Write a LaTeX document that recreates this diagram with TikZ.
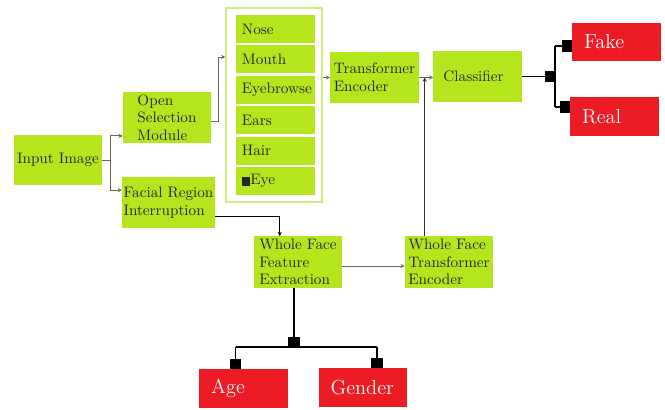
\documentclass[tikz,border=0pt]{standalone}
\usetikzlibrary{arrows.meta}
\definecolor{boxgreen}{HTML}{B5E61D}
\definecolor{boxred}{HTML}{ED1C24}
\definecolor{framegreen}{HTML}{CDEE7E}

\begin{document}
\begin{tikzpicture}[x=0.025cm, y=-0.025cm,
  greenbox/.style={fill=boxgreen, minimum width=2.2cm, minimum height=1.28cm,
    align=left, inner xsep=1pt, inner ysep=0pt, text=black!85,
    font=\rmfamily\fontsize{10.8}{12.6}\selectfont},
  partbox/.style={fill=boxgreen, minimum width=1.98cm, minimum height=0.7cm,
    text width=1.68cm, inner xsep=0.15cm, align=left, text=black!85,
    font=\rmfamily\fontsize{10.8}{12.6}\selectfont},
  redbox/.style={fill=boxred, minimum width=2.22cm, minimum height=0.97cm,
    text width=1.62cm, inner xsep=0.3cm, align=left, text=white,
    font=\rmfamily\fontsize{14.5}{17}\selectfont},
  thin arrow/.style={draw=black!60, line width=0.6pt, -{Stealth[length=3pt,width=3pt]}},
  big arrow/.style={draw=black, line width=1pt, -{Square[length=7pt,width=8pt]}}]
\useasboundingbox (0,0) rectangle (665,409);
% left column
\node[greenbox, minimum height=1.25cm] (input) at (58,160) {Input Image};
\node[greenbox] (opensel) at (167,117.5) {Open\\Selection\\Module};
\node[greenbox] (facial) at (168.5,202.5) {Facial Region\\Interruption};
% frame holding the facial parts
\node[draw=framegreen, line width=1pt, fill=white, minimum width=2.4cm,
  minimum height=4.85cm] (parts) at (274,105) {};
\foreach \name/\lbl [count=\i] in {nose/Nose, mouth/Mouth, brow/Eyebrowse,
    ears/Ears, hair/Hair, eye/{\rule[-1pt]{6pt}{6.5pt}Eye}}
  \node[partbox] (\name) at (275.5,{29+30.4*(\i-1)}) {\lbl};
% encoders and classifier
\node[greenbox] (trenc) at (374.5,77.5) {Transformer\\Encoder};
\node[greenbox, text width=1.7cm] (classifier) at (477.5,76.5) {Classifier\\[3pt]};
\node[greenbox] (wffe) at (298,262) {Whole Face\\Feature\\Extraction};
\node[greenbox] (wfte) at (449,262) {Whole Face\\Transformer\\Encoder};
% outputs
\node[redbox] (fake) at (616.5,42) {Fake};
\node[redbox] (real) at (614.5,116.5) {Real};
\node[redbox] (age) at (243.5,388.5) {Age};
\node[redbox] (gender) at (363,387.5) {Gender};
% thin connectors
\draw[thin arrow] (input.east) -- ++(8,0) |- ([yshift=-0.46cm]opensel.west);
\draw[thin arrow] (input.east) -- ++(8,0) |- ([yshift=0.31cm]facial.west);
\draw[thin arrow] ([yshift=-0.11cm]opensel.east) -- ++(7,0) |- ([yshift=1.2cm]parts.west);
\draw[thin arrow] (parts.east |- trenc.west) -- (trenc.west);
\draw[thin arrow] (trenc.east) -- (trenc.east -| classifier.west);
\coordinate (wfteout) at ([xshift=0.5cm]wfte.north west);
\draw[thin arrow, draw=black!80] (wfteout) -- (wfteout |- trenc.east);
\draw[thin arrow, draw=black] ([yshift=-0.34cm]facial.east) -| ([xshift=0.65cm]wffe.north west);
\draw[thin arrow] ([yshift=-0.1cm]wffe.east) -- ([yshift=-0.1cm]wfte.west);
% age / gender split
\coordinate (split) at (294,347);
\coordinate (agein) at ([xshift=-0.2cm]age.north);
\coordinate (genderin) at ([xshift=0.35cm]gender.north);
\draw[big arrow] (wffe.south -| split) -- (split);
\draw[black, line width=1pt] (agein |- split) -- (genderin |- split);
\draw[big arrow] (agein |- split) -- (agein);
\draw[big arrow] (genderin |- split) -- (genderin);
% fake / real fork
\coordinate (fork) at (555,77);
\coordinate (fakein) at ([yshift=-0.1cm]fake.west);
\coordinate (realin) at ([yshift=0.24cm]real.west);
\draw[big arrow] (classifier.east) -- (classifier.east -| fork);
\draw[black, line width=1pt] (fork |- fakein) -- (fork |- realin);
\draw[big arrow] (fork |- fakein) -- (fakein);
\draw[big arrow] (fork |- realin) -- (realin);
\end{tikzpicture}
\end{document}
